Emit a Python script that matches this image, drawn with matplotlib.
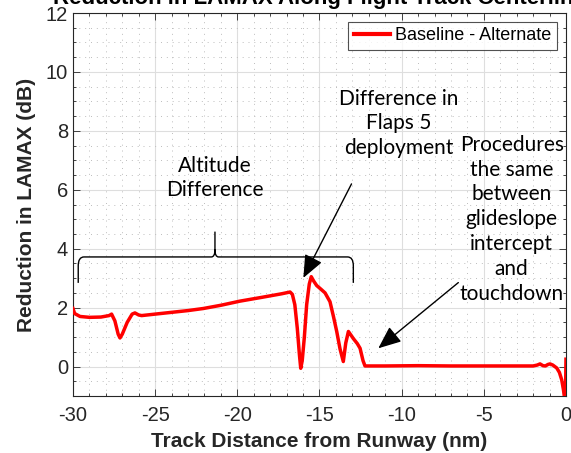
import matplotlib
matplotlib.use("Agg")
import matplotlib.pyplot as plt
from matplotlib.path import Path
from matplotlib.patches import PathPatch
from matplotlib.ticker import MultipleLocator

# Track distance from runway (nm) and LAMAX reduction (dB), baseline minus alternate
distance_nm = [
    -30.0, -29.9, -29.57, -29.0, -28.3, -27.8, -27.65, -27.45, -27.25, -27.14,
    -27.0, -26.7, -26.4, -26.23, -26.0, -25.82, -25.0, -24.0, -23.0, -22.07,
    -21.0, -19.84, -18.5, -17.3, -16.79, -16.65, -16.5, -16.35, -16.22, -16.14,
    -16.05, -15.92, -15.78, -15.62, -15.5, -15.35, -15.17, -14.9, -14.66, -14.36,
    -14.15, -13.95, -13.75, -13.55, -13.4, -13.24, -13.1, -12.94, -12.7, -12.53,
    -12.35, -12.23, -11.0, -9.0, -7.0, -5.0, -3.0, -2.0, -1.75, -1.58,
    -1.4, -1.25, -1.1, -0.97, -0.8, -0.56, -0.4, -0.26, -0.15, -0.08,
    -0.03, 0.0,
]
reduction_db = [
    1.97, 1.80, 1.70, 1.67, 1.68, 1.73, 1.78, 1.55, 1.10, 0.97,
    1.10, 1.50, 1.78, 1.82, 1.75, 1.73, 1.78, 1.84, 1.90, 1.97,
    2.08, 2.22, 2.35, 2.47, 2.53, 2.45, 2.10, 1.30, 0.40, -0.06,
    0.20, 1.00, 2.10, 2.80, 3.05, 2.90, 2.75, 2.62, 2.50, 2.20,
    1.70, 1.19, 0.60, 0.17, 0.80, 1.19, 1.08, 0.95, 0.78, 0.62,
    0.20, 0.02, 0.02, 0.03, 0.02, 0.02, 0.02, 0.02, 0.05, 0.09,
    0.03, 0.02, 0.07, 0.09, 0.05, -0.05, -0.20, -0.45, -0.80, -1.10,
    -1.10, 0.25,
]
series_label = "Baseline - Alternate"
x_ticks = [-30, -25, -20, -15, -10, -5, 0]
y_ticks = [0, 2, 4, 6, 8, 10, 12]

plt.rcParams["axes.unicode_minus"] = False

SANS = ["Liberation Sans", "DejaVu Sans"]
NOTE = ["Lato", "DejaVu Sans"]
INK = "#262626"

fig = plt.figure(figsize=(5.71, 4.53), dpi=100)
ax = fig.add_axes([0.1278, 0.1258, 0.8634, 0.8455])

ax.plot(distance_nm, reduction_db, color="#ff0000", lw=2.5,
        solid_joinstyle="round", label=series_label, zorder=3)

ax.set_xlim(-30, 0)
ax.set_ylim(-1, 12)
ax.set_xticks(x_ticks)
ax.set_yticks(y_ticks)
ax.xaxis.set_minor_locator(MultipleLocator(1))
ax.yaxis.set_minor_locator(MultipleLocator(0.5))
ax.grid(True, which="major", color="#dedede", lw=0.8, zorder=0)
ax.grid(True, which="minor", color="#bdbdbd", lw=0.7,
        linestyle=(0, (1, 5)), zorder=0)
ax.tick_params(which="both", direction="in", top=True, right=True,
               colors=INK, labelsize=14.5, width=0.6)
ax.tick_params(which="major", length=5)
ax.tick_params(which="minor", length=2.5)
for lbl in ax.get_xticklabels() + ax.get_yticklabels():
    lbl.set_fontfamily(SANS)
ax.tick_params(axis="x", pad=7)
for s in ax.spines.values():
    s.set_color(INK)
    s.set_linewidth(0.8)

ax.set_xlabel("Track Distance from Runway (nm)", fontsize=15, fontweight="bold",
              family=SANS, color=INK, labelpad=5)
ax.set_ylabel("Reduction in LAMAX (dB)", fontsize=15, fontweight="bold",
              family=SANS, color=INK, labelpad=7)

fig.text(0.5596, 0.992, "Reduction in LAMAX Along Flight Track Centerline",
         ha="center", va="baseline", fontsize=16, fontweight="bold",
         family=SANS, color="black")

leg = ax.legend(loc="upper right", prop={"family": SANS, "size": 13},
                frameon=True, fancybox=False, handlelength=2.0,
                handletextpad=0.3, borderpad=0.3, borderaxespad=0.5)
leg.get_frame().set_edgecolor(INK)
leg.get_frame().set_linewidth(0.8)
for h in leg.get_lines():
    h.set_linewidth(3)

# Curly brace spanning the altitude-difference segment
bx0, bx1, bxc = -29.68, -12.94, -21.36
by_end, by_bar, by_tip = 2.84, 3.72, 4.58
rx, ry = 0.35, 0.3
verts = [
    (bx0, by_end), (bx0, by_bar - ry),
    (bx0, by_bar), (bx0 + rx, by_bar),
    (bxc - 0.22, by_bar),
    (bxc, by_bar), (bxc, by_bar + 0.25),
    (bxc, by_tip),
    (bxc, by_bar + 0.25),
    (bxc, by_bar), (bxc + 0.22, by_bar),
    (bx1 - rx, by_bar),
    (bx1, by_bar), (bx1, by_bar - ry),
    (bx1, by_end),
]
codes = [Path.MOVETO, Path.LINETO,
         Path.CURVE3, Path.CURVE3,
         Path.LINETO,
         Path.CURVE3, Path.CURVE3,
         Path.LINETO,
         Path.MOVETO,
         Path.CURVE3, Path.CURVE3,
         Path.LINETO,
         Path.CURVE3, Path.CURVE3,
         Path.LINETO]
ax.add_patch(PathPatch(Path(verts, codes), fill=False, edgecolor="black",
                       lw=1.0, zorder=4))

note_kw = dict(family=NOTE, fontsize=15, color="black", ha="center",
               va="center", linespacing=1.3, zorder=5)
ax.text(-21.35, 6.4, "Altitude\nDifference", **note_kw)

arrow_kw = dict(arrowstyle="-|>,head_length=1.0,head_width=0.42",
                color="black", lw=1.0, shrinkA=0, shrinkB=0,
                mutation_scale=14)
ax.text(-10.15, 8.25, "Difference in\nFlaps 5\ndeployment", **note_kw)
ax.annotate("", xy=(-15.98, 3.01), xytext=(-13.05, 6.2),
            arrowprops=arrow_kw, zorder=5)

ax.text(-3.3, 5.0, "Procedures\nthe same\nbetween\nglideslope\nintercept\nand\ntouchdown",
        **note_kw)
ax.annotate("", xy=(-11.42, 0.62), xytext=(-6.55, 2.85),
            arrowprops=arrow_kw, zorder=5)

fig.savefig("out.png", dpi=100)
